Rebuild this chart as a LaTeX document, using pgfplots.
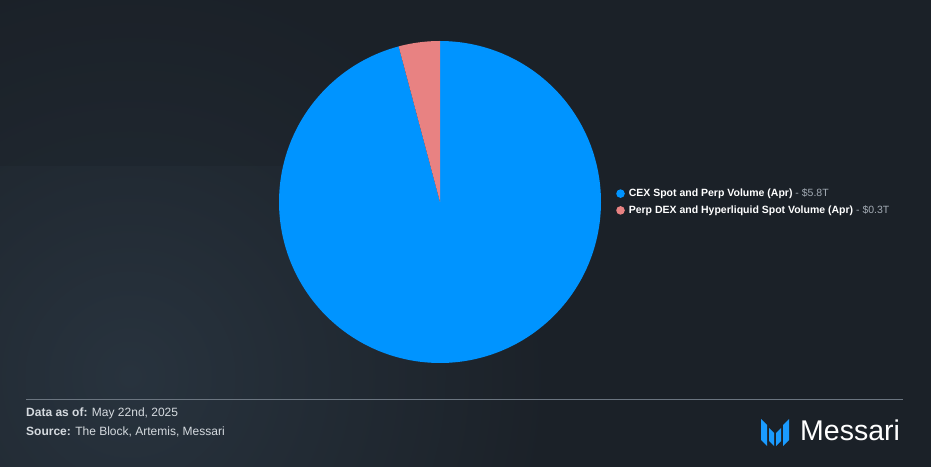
\documentclass[border=0pt]{standalone}
\usepackage{pgfplots}
\pgfplotsset{compat=1.18}
\usepackage{fontspec}
\setmainfont{Liberation Sans}
\definecolor{bgbase}{HTML}{1B2128}
\definecolor{bglight}{HTML}{28333E}
\definecolor{pieblue}{HTML}{0094FF}
\definecolor{piered}{HTML}{E88282}
\definecolor{legray}{HTML}{A3ABB4}
\definecolor{footline}{HTML}{6B7580}
\definecolor{foottext}{HTML}{D5DADF}
\definecolor{logoblue}{HTML}{1A9BFF}
% data: trillions USD (April)
\def\vcex{5.8}
\def\vdex{0.25}
\begin{document}
\begin{tikzpicture}[x=1pt,y=1pt]
\useasboundingbox (0,0) rectangle (931,466);
% background
\fill[bgbase] (-3,-3) rectangle (934,469);
\begin{scope}
\clip (-3,-3) rectangle (934,469);
\shade[inner color=bglight, outer color=bgbase] (130,90) circle (420);
\fill[bgbase, opacity=0.35] (-3,469) rectangle (934,300);
\end{scope}
\pgfmathsetmacro\ared{90+360*\vdex/(\vcex+\vdex)}
\begin{axis}[at={(440pt,264pt)}, anchor=center,
  width=322pt, height=322pt, scale only axis,
  xmin=-1, xmax=1, ymin=-1, ymax=1, hide axis, clip=false,
  legend image code/.code={\fill[#1] (4pt,0pt) circle (4.3pt);},
  legend style={at={(1.0466,0.5)}, anchor=west, draw=none, fill=none,
    inner sep=0pt, text=white, row sep=7.5pt,
    font=\fontsize{10.5}{12}\selectfont,
    nodes={inner sep=0pt, anchor=west},
    /tikz/every odd column/.append style={column sep=4pt}},
  legend cell align=left]
\addplot[fill=pieblue, draw=none, domain=\ared:450, samples=200, variable=\t]
  ({cos(t)}, {sin(t)}) -- (axis cs:0,0) -- cycle;
\addlegendentry{\textbf{CEX Spot and Perp Volume (Apr)}\textcolor{legray}{~- \$5.8T}}
\addplot[fill=piered, draw=none, domain=90:\ared, samples=30, variable=\t]
  ({cos(t)}, {sin(t)}) -- (axis cs:0,0) -- cycle;
\addlegendentry{\textbf{Perp DEX and Hyperliquid Spot Volume (Apr)}\textcolor{legray}{~- \$0.3T}}
\end{axis}
% footer
\draw[footline, line width=1pt] (26,67) -- (903,67);
\node[anchor=base west, inner sep=0pt, text=foottext, font=\fontsize{12}{14}\selectfont] at (26,49.5) {\textbf{Data as of:} May 22nd, 2025};
\node[anchor=base west, inner sep=0pt, text=foottext, font=\fontsize{12}{14}\selectfont] at (26,30.5) {\textbf{Source:} The Block, Artemis, Messari};
% logo
\fill[logoblue] (761,47) -- (767,41) -- (767,20) -- (761,26) -- cycle;
\fill[logoblue] (769,38) -- (774,33) -- (774,20) -- (769,25) -- cycle;
\fill[logoblue] (776,33) -- (781,38) -- (781,25) -- (776,20) -- cycle;
\fill[logoblue] (783,41) -- (789,47) -- (789,26) -- (783,20) -- cycle;
\node[anchor=base west, inner sep=0pt, text=white, font=\fontsize{28.5}{30}\selectfont] at (800,25.5) {Messari};
\end{tikzpicture}
\end{document}
